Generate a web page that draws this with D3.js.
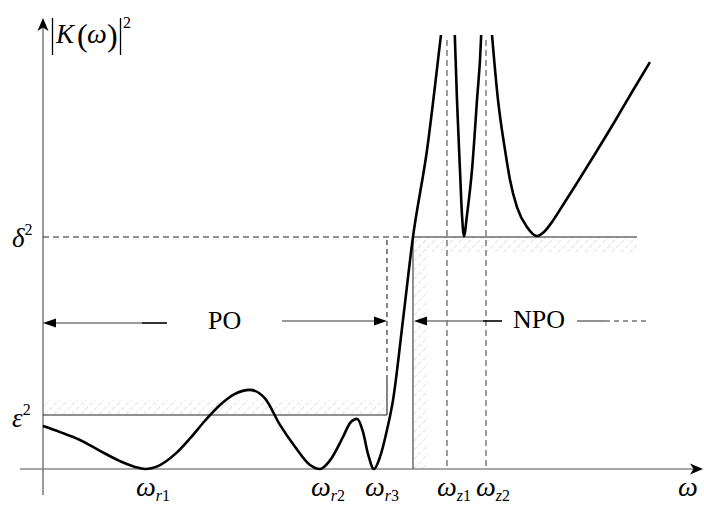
<!DOCTYPE html>
<html><head><meta charset="utf-8">
<script src="https://cdn.jsdelivr.net/npm/d3@7"></script>
<style>html,body{margin:0;padding:0;background:#fff;}svg{display:block;}
text{font-family:"Liberation Serif","Tinos","Times New Roman","DejaVu Serif",serif;}</style>
</head><body>
<svg id="c" width="704" height="505"></svg>
<script>
// ---- data (ω, |K(ω)|²) with δ² = 1 ----
const branch1 = [[0,0.185],[0.262,0.159],[0.569,0.125],[0.877,0.078],[1.185,0.034],[1.415,0.009],[1.569,0],[1.8,0.017],[2.031,0.064],[2.262,0.132],[2.492,0.208],[2.723,0.276],[2.954,0.324],[3.185,0.341],[3.415,0.304],[3.646,0.19],[3.877,0.096],[4.108,0.017],[4.262,0],[4.415,0.037],[4.615,0.138],[4.723,0.198],[4.831,0.216],[4.923,0.16],[5.0,0.065],[5.092,0],[5.185,0.052],[5.292,0.168],[5.385,0.297],[5.538,0.642],[5.692,1.0],[5.908,1.375],[6.123,1.871],[6.169,1.978]];
const branch2 = [[6.323,1.978],[6.338,1.849],[6.369,1.591],[6.415,1.289],[6.446,1.095],[6.477,1.004],[6.523,1.095],[6.6,1.289],[6.677,1.591],[6.738,1.849],[6.754,1.978]];
const branch3 = [[6.877,1.978],[6.908,1.871],[7.0,1.591],[7.108,1.375],[7.185,1.246],[7.292,1.129],[7.446,1.043],[7.6,1.004],[7.723,1.026],[7.831,1.065],[8.0,1.138],[8.215,1.233],[8.492,1.358],[8.8,1.5],[9.062,1.625],[9.338,1.754]];
const levels = {eps2:0.233, delta2:1};
const levelLabels = ["ε", "δ"];
const rippleMinima = [1.569, 4.262, 5.092];      // ω_r1, ω_r2, ω_r3
const rippleLabels = ["r1","r2","r3"];
const poles = [6.215, 6.815];                      // ω_z1, ω_z2
const poleLabels = ["z1","z2"];
const passEdge = 5.292;   // end of PO region
const stopEdge = 5.692;   // start of NPO region
const stopEnd = 9.138;
const yTop = 1.871;
const regionLabels = ["PO","NPO"];

// ---- scales ----
const x = d3.scaleLinear().domain([0,10]).range([43,693]);
const y = d3.scaleLinear().domain([0,1]).range([469,237]);

const svg = d3.select("#c");

// hatch pattern
const defs = svg.append("defs");
const pat = defs.append("pattern").attr("id","hatch").attr("patternUnits","userSpaceOnUse")
  .attr("width",9).attr("height",9);
pat.append("path").attr("d","M0,9 L9,0").attr("stroke","#e4e4e4").attr("stroke-width",1.2)
  .attr("stroke-dasharray","4,2");
defs.append("clipPath").attr("id","clipTop").append("rect")
  .attr("x",0).attr("y",y(yTop)).attr("width",704).attr("height",505);

// hatched regions
svg.append("rect").attr("x",x(0)).attr("y",y(levels.eps2)-15).attr("width",x(passEdge)-x(0)).attr("height",15).attr("fill","url(#hatch)");
svg.append("rect").attr("x",x(stopEdge)).attr("y",y(levels.delta2)).attr("width",x(stopEnd)-x(stopEdge)).attr("height",16).attr("fill","url(#hatch)");
svg.append("rect").attr("x",x(stopEdge)).attr("y",y(levels.delta2)).attr("width",15).attr("height",y(0)-y(levels.delta2)).attr("fill","url(#hatch)");

// axes
svg.append("line").attr("x1",20).attr("x2",697).attr("y1",y(0)).attr("y2",y(0)).attr("stroke","#8a8a8a").attr("stroke-width",1.5);
svg.append("line").attr("x1",x(0)).attr("x2",x(0)).attr("y1",495).attr("y2",24).attr("stroke","#7a7a7a").attr("stroke-width",1.5);
svg.append("path").attr("d",`M${x(0)},18 L${x(0)-5.5},31 L${x(0)},27.5 L${x(0)+5.5},31 Z`).attr("fill","#000");
svg.append("path").attr("d",`M703,${y(0)} L690,${y(0)-5.5} L693.5,${y(0)} L690,${y(0)+5.5} Z`).attr("fill","#000");

// pole dashed lines
poles.forEach(p=>{
  svg.append("line").attr("x1",x(p)).attr("x2",x(p)).attr("y1",40).attr("y2",y(0))
    .attr("stroke","#666").attr("stroke-width",1.3).attr("stroke-dasharray","6,4");
});

// level lines
svg.append("line").attr("x1",x(0)).attr("x2",x(passEdge)).attr("y1",y(levels.eps2)).attr("y2",y(levels.eps2)).attr("stroke","#222").attr("stroke-width",1.1);
svg.append("line").attr("x1",x(passEdge)).attr("x2",x(passEdge)).attr("y1",y(levels.eps2)).attr("y2",380).attr("stroke","#222").attr("stroke-width",1.1);
svg.append("line").attr("x1",x(passEdge)).attr("x2",x(passEdge)).attr("y1",380).attr("y2",y(levels.delta2)).attr("stroke","#222").attr("stroke-width",1.1).attr("stroke-dasharray","5,4");
svg.append("line").attr("x1",x(0)).attr("x2",x(stopEdge)).attr("y1",y(levels.delta2)).attr("y2",y(levels.delta2)).attr("stroke","#222").attr("stroke-width",1.1).attr("stroke-dasharray","6,4");
svg.append("line").attr("x1",x(stopEdge)).attr("x2",x(stopEnd)).attr("y1",y(levels.delta2)).attr("y2",y(levels.delta2)).attr("stroke","#222").attr("stroke-width",1.2);
svg.append("line").attr("x1",x(stopEdge)).attr("x2",x(stopEdge)).attr("y1",y(levels.delta2)).attr("y2",y(0)).attr("stroke","#555").attr("stroke-width",1.3);

// curve
const line = d3.line().x(d=>x(d[0])).y(d=>y(d[1])).curve(d3.curveMonotoneX);
const g = svg.append("g").attr("clip-path","url(#clipTop)");
[branch1,branch2,branch3].forEach(b=>{
  g.append("path").attr("d",line(b)).attr("fill","none").attr("stroke","#000").attr("stroke-width",2.6);
});

// arrows
const ay1 = 323, ay2 = 321;
function arrowHead(tx,ty,dir){ // dir -1 = points left, +1 = points right
  const L=13,H=4.5;
  svg.append("path").attr("d",`M${tx},${ty} L${tx-dir*L},${ty-H} L${tx-dir*L},${ty+H} Z`).attr("fill","#000");
}
function seg(x1,x2,yy,col,w,dash){
  const l=svg.append("line").attr("x1",x1).attr("x2",x2).attr("y1",yy).attr("y2",yy).attr("stroke",col).attr("stroke-width",w);
  if(dash) l.attr("stroke-dasharray",dash);
}
seg(x(0)+8,142,ay1,"#777",1.6); seg(142,167,ay1,"#000",1.6); arrowHead(x(0),ay1,-1);
seg(282,x(passEdge)-8,ay2,"#777",1.6); arrowHead(x(passEdge),ay2,1);
seg(x(stopEdge)+8,483,ay2,"#777",1.6); seg(483,502,ay2,"#000",1.6); arrowHead(x(stopEdge)+1,ay2,-1);
seg(577,605,ay2,"#777",1.6); seg(605,650,ay2,"#777",1.4,"5,4");

svg.append("text").attr("x",208).attr("y",329).attr("font-size",26).text(regionLabels[0]);
svg.append("text").attr("x",513).attr("y",328).attr("font-size",26).text(regionLabels[1]);

// level labels
function supLabel(xx,yy,sym){
  const t=svg.append("text").attr("x",xx).attr("y",yy).attr("font-size",27);
  t.append("tspan").attr("font-style","italic").text(sym);
  t.append("tspan").attr("font-size",16).attr("dy",-12).text("2");
}
supLabel(12,y(levels.delta2)+10,levelLabels[1]);
supLabel(12,y(levels.eps2)+12,levelLabels[0]);

// omega labels
function omegaLabel(xx,sub){
  const t=svg.append("text").attr("x",xx).attr("y",496).attr("font-size",28);
  t.append("tspan").attr("font-style","italic").text("ω");
  t.append("tspan").attr("font-size",16).attr("dy",5).attr("font-style","italic").text(sub[0]);
  t.append("tspan").attr("font-size",16).text(sub.slice(1));
}
rippleMinima.forEach((m,i)=>omegaLabel(x(m)-9,rippleLabels[i]));
poles.forEach((p,i)=>omegaLabel(x(p)-10,poleLabels[i]));
svg.append("text").attr("x",678).attr("y",496).attr("font-size",28).attr("font-style","italic").text("ω");

// y-axis label |K(ω)|²
svg.append("line").attr("x1",52.5).attr("x2",52.5).attr("y1",18).attr("y2",55).attr("stroke","#000").attr("stroke-width",1.3);
svg.append("line").attr("x1",120.5).attr("x2",120.5).attr("y1",18).attr("y2",55).attr("stroke","#000").attr("stroke-width",1.3);
svg.append("text").attr("x",56).attr("y",43).attr("font-size",27).attr("font-style","italic").text("K");
svg.append("text").attr("x",77).attr("y",46).attr("font-size",32).text("(");
svg.append("text").attr("x",87).attr("y",43).attr("font-size",28).attr("font-style","italic").text("ω");
svg.append("text").attr("x",107).attr("y",46).attr("font-size",32).text(")");
svg.append("text").attr("x",123).attr("y",28).attr("font-size",16).text("2");
</script>
</body></html>
